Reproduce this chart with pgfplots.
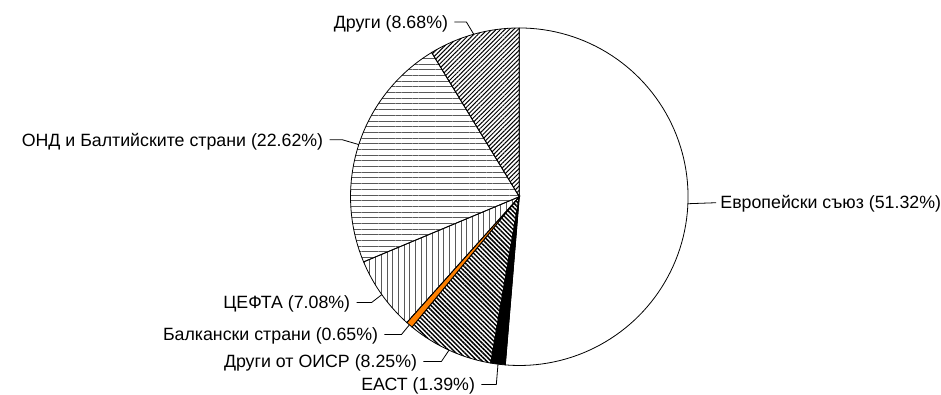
\documentclass[border=0pt]{standalone}
\usepackage{fontspec}
\setmainfont{Liberation Sans}[Language=Bulgarian]
\usepackage{pgfplots}
\pgfplotsset{compat=1.18}
\usepackage{pgfplotstable}
\usetikzlibrary{patterns,patterns.meta}

\definecolor{balkan}{RGB}{255,128,0}
\tikzset{lbl/.style={inner sep=0pt, yshift=-1.5pt, font=\fontsize{17.8pt}{21pt}\selectfont}}

% Shares in percent, clockwise from 12 o'clock
\pgfplotstableread{
share
51.32
1.39
8.25
0.65
7.08
22.62
8.68
}\shares

% Start, end and middle angle of every slice
\def\cum{0}
\foreach \i in {0,...,6}{%
  \pgfplotstablegetelem{\i}{share}\of\shares
  \pgfmathsetmacro\s{90-3.6*\cum}%
  \pgfmathsetmacro\newcum{\cum+\pgfplotsretval}%
  \pgfmathsetmacro\e{90-3.6*\newcum}%
  \pgfmathsetmacro\m{(\s+\e)/2}%
  \expandafter\xdef\csname st\i\endcsname{\s}%
  \expandafter\xdef\csname en\i\endcsname{\e}%
  \expandafter\xdef\csname mid\i\endcsname{\m}%
  \xdef\cum{\newcum}%
}

\def\cx{520}
\def\cy{197}
\def\rr{169}

\newcommand\slice[2]{%
  \addplot[draw=black, line width=0.8pt, #2, domain=\csname en#1\endcsname:\csname st#1\endcsname,
    samples=90, variable=\t]
    ({\cx+\rr*cos(\t)}, {\cy+\rr*sin(\t)}) -- (\cx,\cy) -- cycle;
}
\newcommand\leader[5]{%
  \draw[line width=0.8pt] ({\cx+\rr*cos(\csname mid#1\endcsname)},{\cy+\rr*sin(\csname mid#1\endcsname)})
    -- (#2,#3) -- (#4,#3) node[lbl, anchor=east, xshift=-6pt] {#5};
}

\begin{document}
\begin{tikzpicture}
\begin{axis}[
  scale only axis, width=941pt, height=394pt,
  xmin=0, xmax=941, ymin=0, ymax=394,
  hide axis, clip=false,
]
\path (0,0) rectangle (941,394);

\slice{0}{fill=white}
\slice{1}{fill=black}
\slice{2}{pattern={Lines[angle=-45, distance=3.2pt, line width=1.5pt]}, pattern color=black}
\slice{3}{fill=balkan}
\slice{4}{pattern={Lines[angle=90, distance=5.7pt, line width=1pt]}, pattern color=black!65}
\slice{5}{pattern={Lines[angle=0, distance=5.7pt, line width=1pt]}, pattern color=black!65}
\slice{6}{pattern={Lines[angle=45, distance=3.1pt, line width=1pt]}, pattern color=black}

\draw[line width=0.8pt] ({\cx+\rr*cos(\csname mid0\endcsname)},{\cy+\rr*sin(\csname mid0\endcsname)})
  -- (717,191) node[lbl, anchor=west, xshift=4pt] {Европейски съюз (51.32\%)};
\leader{1}{497}{9}{482}{ЕАСТ (1.39\%)}
\leader{2}{442}{32}{424}{Други от ОИСР (8.25\%)}
\leader{3}{402}{59}{385}{Балкански страни (0.65\%)}
\leader{4}{372}{91}{357}{ЦЕФТА (7.08\%)}
\leader{5}{343}{254}{330}{ОНД и Балтийските страни (22.62\%)}
\leader{6}{467}{372}{455}{Други (8.68\%)}
\end{axis}
\end{tikzpicture}
\end{document}
